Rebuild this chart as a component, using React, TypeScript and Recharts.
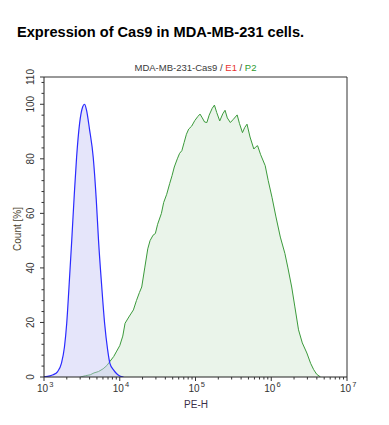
import React from "react";
import {
  ComposedChart,
  Area,
  XAxis,
  YAxis,
  ReferenceLine,
} from "recharts";

// PE-H values (linear units) and count %
const controlX = [
  1000, 1202, 1318, 1514, 1698, 1862, 1995, 2138, 2323, 2512, 2692, 2951,
  3236, 3428, 3631, 3981, 4467, 4898, 5248, 5754, 6310, 6918, 7413, 8318,
  9120, 10000, 11220,
];
const controlCount = [
  0.1, 0.4, 0.8, 2, 5, 11, 19.7, 33, 50, 67, 80.5, 93, 99, 100, 98, 91, 80.5,
  65, 50, 34, 19.7, 10, 5, 2.5, 1.2, 0.4, 0,
];

const cas9X = [
  3020, 3548, 4074, 4571, 5248, 6026, 6761, 7413, 8318, 9120, 10000, 10960,
  11750, 13180, 15140, 16600, 18200, 19500, 21380, 23440, 25120, 27540, 29510,
  31620, 35480, 38020, 41690, 45710, 48980, 52480, 57540, 61660, 66070, 70790,
  75860, 81280, 89130, 97720, 107200, 114800, 123000, 131800, 141300, 151400,
  166000, 177800, 190500, 208900, 229100, 245500, 263000, 288400, 316200,
  354800, 380200, 416900, 446700, 478600, 524800, 588800, 631000, 660700,
  724400, 831800, 912000, 1023000, 1148000, 1318000, 1514000, 1660000,
  1862000, 2042000, 2291000, 2570000, 2951000, 3311000, 3631000, 3981000,
  4467000,
];
const cas9Count = [
  0, 0.5, 0.8, 1.5, 2, 3, 4.2, 5.7, 7.5, 9.5, 11.5, 15, 19.7, 22, 24.6, 28, 31,
  33, 40, 47, 50, 52, 52.6, 56, 60, 64, 67, 71, 73.8, 77, 80, 82, 83, 86, 89,
  90.9, 92, 94, 95.5, 96.4, 95, 93.5, 93.3, 96, 98.5, 99.7, 97, 93.9, 96.5,
  97.8, 95, 93.3, 94.5, 96.1, 93, 89.6, 91.5, 92.7, 88, 83.6, 84.5, 84.8, 81.5,
  77.5, 72, 65.9, 59, 51.3, 45.3, 40, 33, 26, 17.3, 12.5, 8.8, 5, 2.7, 1, 0,
];

const xDecades = [1000, 10000, 100000, 1000000, 10000000];
const xDecadeExp = ["3", "4", "5", "6", "7"];
const xMinorTicks = [
  2000, 3000, 4000, 5000, 6000, 7000, 8000, 9000,
  20000, 30000, 40000, 50000, 60000, 70000, 80000, 90000,
  200000, 300000, 400000, 500000, 600000, 700000, 800000, 900000,
  2000000, 3000000, 4000000, 5000000, 6000000, 7000000, 8000000, 9000000,
];
const yMajorTicks = [0, 20, 40, 60, 80, 100, 110];
const yMinorTicks = [
  4, 8, 12, 16, 24, 28, 32, 36, 44, 48, 52, 56, 64, 68, 72, 76, 84, 88, 92,
  96, 104, 108,
];

const controlData = controlX.map((x, i) => ({ x, count: controlCount[i] }));
const cas9Data = cas9X.map((x, i) => ({ x, count: cas9Count[i] }));

const FONT = "'Liberation Sans', Arial, sans-serif";

function XTick(props: any) {
  const { x, y, payload } = props;
  const idx = xDecades.indexOf(payload.value);
  if (idx < 0) {
    return <line x1={x} y1={y} x2={x} y2={y + 2.5} stroke="#333" />;
  }
  return (
    <g>
      <line x1={x} y1={y} x2={x} y2={y + 4} stroke="#333" />
      <text x={x - 7} y={y + 15} fontSize={10} fill="#333" fontFamily={FONT}>
        10
        <tspan dx={1} dy={-5} fontSize={7.5}>
          {xDecadeExp[idx]}
        </tspan>
      </text>
    </g>
  );
}

function YTick(props: any) {
  const { x, y, payload } = props;
  if (!yMajorTicks.includes(payload.value)) {
    return <line x1={x} y1={y} x2={x - 2.5} y2={y} stroke="#333" />;
  }
  return (
    <g>
      <line x1={x} y1={y} x2={x - 4} y2={y} stroke="#333" />
      <text
        x={x - 10}
        y={y}
        fontSize={10}
        fill="#333"
        fontFamily={FONT}
        textAnchor="middle"
        transform={`rotate(-90 ${x - 10} ${y})`}
      >
        {payload.value}
      </text>
    </g>
  );
}

export default function App() {
  return (
    <div
      style={{
        position: "absolute",
        left: 0,
        top: 0,
        width: 389,
        height: 425,
        background: "#fff",
        fontFamily: FONT,
      }}
    >
      <div
        style={{
          position: "absolute",
          left: 17,
          top: 24,
          fontSize: 14.6,
          fontWeight: "bold",
          color: "#000",
          whiteSpace: "nowrap",
        }}
      >
        Expression of Cas9 in MDA-MB-231 cells.
      </div>
      <div
        style={{
          position: "absolute",
          left: 0,
          width: 391,
          top: 62,
          textAlign: "center",
          fontSize: 9.5,
          color: "#3a3a3a",
          whiteSpace: "nowrap",
        }}
      >
        MDA-MB-231-Cas9 / <span style={{ color: "#e83030" }}>E1</span> /{" "}
        <span style={{ color: "#2e9a2e" }}>P2</span>
      </div>
      <div
        style={{
          position: "absolute",
          left: 17,
          top: 229,
          fontSize: 10,
          color: "#4a3f2e",
          whiteSpace: "nowrap",
          transform: "translate(-50%, -50%) rotate(-90deg)",
        }}
      >
        Count [%]
      </div>
      <div
        style={{
          position: "absolute",
          left: 196,
          top: 404,
          fontSize: 10,
          color: "#3a2f4a",
          whiteSpace: "nowrap",
          transform: "translate(-50%, -50%)",
        }}
      >
        PE-H
      </div>
      <div style={{ position: "absolute", left: 0, top: 0 }}>
        <ComposedChart
          width={389}
          height={425}
          margin={{ top: 77, right: 42, left: 14, bottom: 18 }}
        >
          <XAxis
            dataKey="x"
            type="number"
            scale="log"
            domain={[1000, 10000000]}
            allowDataOverflow
            ticks={[...xDecades, ...xMinorTicks].sort((a, b) => a - b)}
            interval={0}
            tick={<XTick />}
            tickLine={false}
            tickSize={0}
            tickMargin={0}
            height={30}
            axisLine={{ stroke: "#222" }}
          />
          <YAxis
            type="number"
            domain={[0, 110]}
            allowDataOverflow
            ticks={[...yMajorTicks, ...yMinorTicks].sort((a, b) => a - b)}
            interval={0}
            tick={<YTick />}
            tickLine={false}
            tickSize={0}
            tickMargin={0}
            width={30}
            axisLine={{ stroke: "#222" }}
          />
          <Area
            data={cas9Data}
            dataKey="count"
            type="linear"
            stroke="#3b9a3b"
            strokeWidth={1}
            fill="#dcecdc"
            fillOpacity={0.6}
            isAnimationActive={false}
          />
          <Area
            data={controlData}
            dataKey="count"
            type="monotone"
            stroke="#2a2aff"
            strokeWidth={1.2}
            fill="#c6c6f4"
            fillOpacity={0.45}
            isAnimationActive={false}
          />
          <ReferenceLine y={110} stroke="#333" />
          <ReferenceLine x={10000000} stroke="#333" />
        </ComposedChart>
      </div>
    </div>
  );
}
